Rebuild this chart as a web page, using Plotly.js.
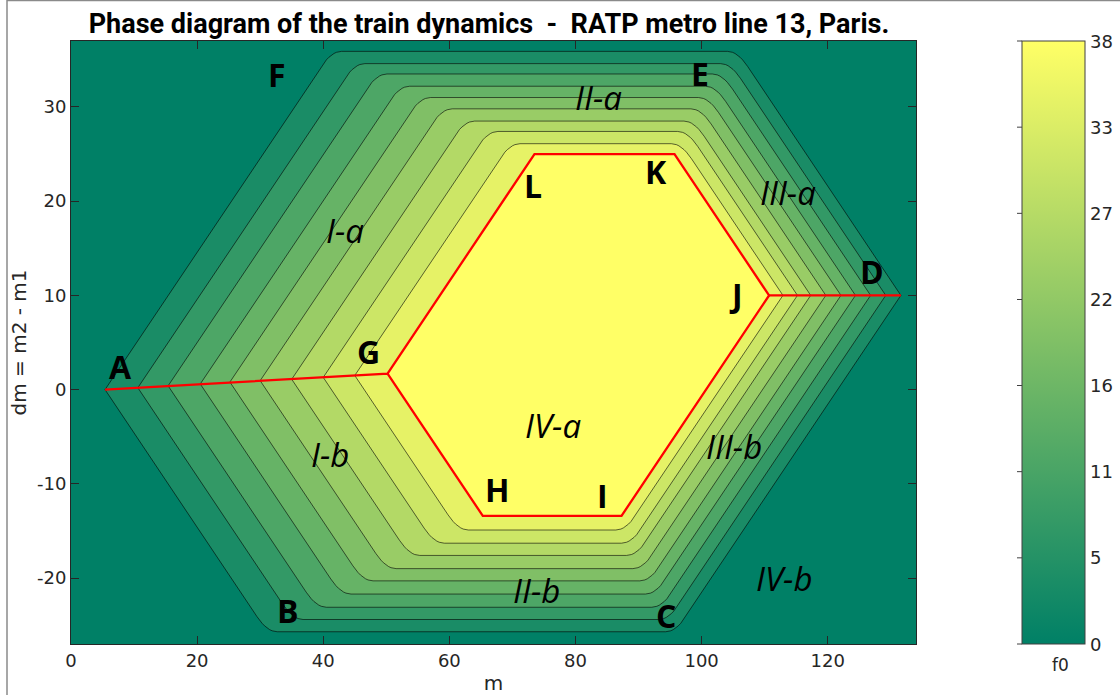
<!DOCTYPE html>
<html>
<head>
<meta charset="utf-8">
<script src="https://cdn.plot.ly/plotly-3.0.1.min.js"></script>
<style>html,body{margin:0;padding:0;background:#fff;}#chart{width:1120px;height:695px;}</style>
</head>
<body>
<div id="chart"></div>
<script>
// ---- Data (contour lines, outer boundary -> plateau edge) ----
const levelF0  = [0, 4.2, 8.4, 12.7, 16.9, 21.1, 25.3, 29.6, 33.8, 38];
const leftM    = [5.4, 10.6, 15.4, 20.5, 25.2, 30.0, 35.0, 40.0, 45.0, 50.2];
const leftDm   = [0.0, 0.2, 0.4, 0.6, 0.8, 0.95, 1.1, 1.3, 1.5, 1.7];
const rightM   = [131.6, 129.2, 126.8, 124.4, 122.1, 119.7, 117.3, 115.2, 112.9, 110.7];
const rightDm  = [10, 10, 10, 10, 10, 10, 10, 10, 10, 10];
const topDm    = [35.9, 34.6, 33.5, 32.2, 31.0, 29.8, 28.5, 27.4, 26.1, 25.0];
const bottomDm = [-25.7, -24.4, -23.1, -21.7, -20.3, -19.0, -17.6, -16.3, -14.9, -13.4];

// point labels
const ptText = ['A','B','C','D','E','F','G','H','I','J','K','L'];
const ptM    = [7.9, 34.4, 94.4, 127.0, 99.7, 32.7, 47.1, 67.6, 84.3, 105.4, 92.7, 73.3];
const ptDm   = [2.5, -23.4, -24.0, 12.5, 33.5, 33.4, 4.0, -10.6, -11.2, 10.1, 23.2, 21.7];
// region labels
const regText = ['I-a','I-b','II-a','II-b','III-a','III-b','IV-a','IV-b'];
const regM    = [43.5, 41.1, 83.7, 73.8, 113.7, 105.1, 76.5, 113.0];
const regDm   = [16.9, -6.9, 31.0, -21.3, 20.9, -6.0, -3.8, -20.0];

// colorbar
const cbMin = 0, cbMax = 38;
const cbTickVals = [0, 5.43, 10.86, 16.29, 21.71, 27.14, 32.57, 38];
const cbTickText = ['0','5','11','16','22','27','33','38'];

const xTickVals = [0, 20, 40, 60, 80, 100, 120];
const xTickText = ['0','20','40','60','80','100','120'];
const yTickVals = [-20, -10, 0, 10, 20, 30];
const yTickText = ['-20','-10','0','10','20','30'];

// ---- helpers ----
function summer(t){ return 'rgb(' + Math.round(255*t) + ',' + Math.round(127.5+127.5*t) + ',102)'; }
const nLev = leftM.length;
const nBands = nLev + 1;

function roundCorner(P0, C, P1, r, out){
  const s0 = r / Math.abs(P0[0]-C[0]);
  const s1 = r / Math.abs(P1[0]-C[0]);
  const Q0 = [C[0]+(P0[0]-C[0])*s0, C[1]+(P0[1]-C[1])*s0];
  const Q1 = [C[0]+(P1[0]-C[0])*s1, C[1]+(P1[1]-C[1])*s1];
  const N = 8;
  for (let i=0;i<=N;i++){
    const t=i/N, a=(1-t)*(1-t), b=2*t*(1-t), c=t*t;
    out.push([a*Q0[0]+b*C[0]+c*Q1[0], a*Q0[1]+b*C[1]+c*Q1[1]]);
  }
}
function levelVerts(k){
  const L = [leftM[k], leftDm[k]];
  const R = [rightM[k], rightDm[k]];
  const TL = [leftM[k] + (topDm[k]-leftDm[k]), topDm[k]];
  const BL = [leftM[k] + (leftDm[k]-bottomDm[k]), bottomDm[k]];
  const TR = [rightM[k] - (topDm[k]-rightDm[k]), topDm[k]];
  const BR = [rightM[k] - (rightDm[k]-bottomDm[k]), bottomDm[k]];
  return {L, TL, TR, R, BR, BL};
}
function levelPath(k, rounded){
  const v = levelVerts(k);
  const pts = [v.L];
  const r = 1.6;
  if (rounded){
    roundCorner(v.L, v.TL, v.TR, r, pts);
    roundCorner(v.TL, v.TR, v.R, r, pts);
    pts.push(v.R);
    roundCorner(v.R, v.BR, v.BL, r, pts);
    roundCorner(v.BR, v.BL, v.L, r, pts);
  } else {
    pts.push(v.TL, v.TR, v.R, v.BR, v.BL);
  }
  pts.push(v.L);
  return pts;
}

const traces = [];
for (let k=0;k<nLev;k++){
  const pts = levelPath(k, k < nLev-1);
  traces.push({
    type:'scatter', mode:'lines',
    x: pts.map(p=>p[0]), y: pts.map(p=>p[1]),
    fill:'toself', fillcolor: summer((k+1)/(nBands-1)),
    line:{color:'rgba(0,0,0,0.85)', width:0.7},
    hoverinfo:'skip', showlegend:false
  });
}
// red phase boundaries
const vIn = levelVerts(nLev-1);
const vOut = levelVerts(0);
traces.push({
  type:'scatter', mode:'lines',
  x:[vOut.L[0], vIn.L[0], vIn.TL[0], vIn.TR[0], vIn.R[0], vIn.BR[0], vIn.BL[0], vIn.L[0], null, vIn.R[0], vOut.R[0]],
  y:[vOut.L[1], vIn.L[1], vIn.TL[1], vIn.TR[1], vIn.R[1], vIn.BR[1], vIn.BL[1], vIn.L[1], null, vIn.R[1], vOut.R[1]],
  line:{color:'#ff0000', width:2.3}, hoverinfo:'skip', showlegend:false
});
// colorbar carrier
traces.push({
  type:'scatter', mode:'markers', x:[null], y:[null], showlegend:false, hoverinfo:'skip',
  marker:{color:[cbMin, cbMax], cmin:cbMin, cmax:cbMax,
    colorscale:[[0,summer(0)],[1,summer(1)]], showscale:true,
    colorbar:{x:(1022-71)/845, xanchor:'left', xref:'paper', y:0.5, yanchor:'middle', len:1, lenmode:'fraction',
      thickness:63, thicknessmode:'pixels', xpad:0, ypad:0,
      outlinewidth:1, outlinecolor:'#404040',
      tickvals:cbTickVals, ticks:'', showticklabels:false}}
});

const annotations = [];
ptText.forEach((t,i)=>annotations.push({x:ptM[i], y:ptDm[i], text:t, showarrow:false,
  font:{family:'Open Sans', size:32, color:'#000', weight:'bold'}}));
regText.forEach((t,i)=>annotations.push({x:regM[i], y:regDm[i], text:'<i>'+t+'</i>', showarrow:false,
  font:{family:'Open Sans', size:33, color:'#000', style:'italic'}}));
cbTickVals.forEach((v,i)=>annotations.push({xref:'paper', yref:'paper', x:(1088-71)/845, y:(v-cbMin)/(cbMax-cbMin),
  xanchor:'left', yanchor:'middle', text:cbTickText[i], showarrow:false,
  font:{family:'DejaVu Sans', size:18, color:'#262626'}}));
annotations.push({xref:'paper', yref:'paper', x:(1060-71)/845, y:(644-665)/603, xanchor:'center', yanchor:'middle',
  text:'f0', showarrow:false, font:{family:'DejaVu Sans', size:17, color:'#262626'}});

const shapes = [
  {type:'line', xref:'paper', yref:'paper', x0:(7-71)/845, x1:(7-71)/845, y0:(644-695)/603, y1:(644-0)/603, line:{color:'#8a8a8a', width:1.5}},
  {type:'line', xref:'paper', yref:'paper', x0:(7-71)/845, x1:(1120-71)/845, y0:(644-0.5)/603, y1:(644-0.5)/603, line:{color:'#8a8a8a', width:1.5}}
];
cbTickVals.forEach(v=>shapes.push({type:'line', xref:'paper', yref:'paper',
  x0:(1017-71)/845, x1:(1022-71)/845, y0:(v-cbMin)/(cbMax-cbMin), y1:(v-cbMin)/(cbMax-cbMin), line:{color:'#404040', width:1}}));

const axisCommon = {
  showgrid:false, zeroline:false, showline:true, linecolor:'#262626', linewidth:1, mirror:'ticks',
  ticks:'inside', ticklen:8, tickcolor:'#262626', tickwidth:1,
  tickfont:{family:'DejaVu Sans', size:18, color:'#262626'}
};
const layout = {
  width:1120, height:695,
  margin:{l:71, r:204, t:41, b:51, pad:0},
  paper_bgcolor:'#ffffff', plot_bgcolor:summer(0),
  title:{text:'Phase diagram of the train dynamics\u00a0\u00a0-\u00a0\u00a0RATP metro line 13, Paris.',
    font:{family:'Liberation Sans Narrow, Roboto, sans-serif', size:27, color:'#000', weight:'bold'},
    x:(489-71)/845, xref:'paper', xanchor:'center', y:1-24/695, yref:'container', yanchor:'middle'},
  xaxis:Object.assign({}, axisCommon, {range:[0,134], tickvals:xTickVals, ticktext:xTickText,
    title:{text:'m', font:{family:'DejaVu Sans', size:20, color:'#262626'}, standoff:6}}),
  yaxis:Object.assign({}, axisCommon, {range:[-27,37], tickvals:yTickVals, ticktext:yTickText,
    title:{text:'dm = m2 - m1', font:{family:'DejaVu Sans', size:20, color:'#262626'}, standoff:4}}),
  annotations, shapes, showlegend:false
};
Plotly.newPlot('chart', traces, layout, {staticPlot:true, displayModeBar:false});
</script>
</body>
</html>
